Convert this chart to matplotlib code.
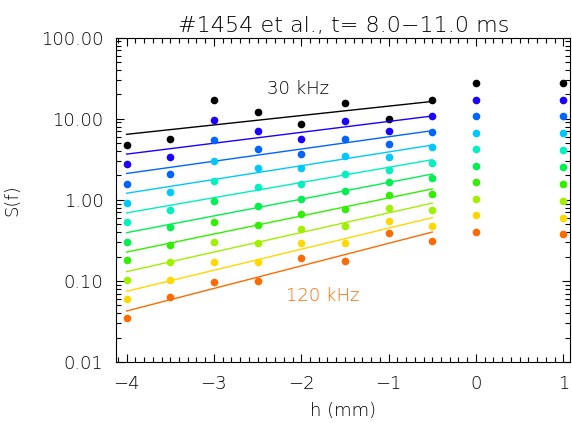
import numpy as np
import matplotlib
matplotlib.use("Agg")
import matplotlib.pyplot as plt
from matplotlib.ticker import MultipleLocator, LogLocator, FormatStrFormatter, NullFormatter

# probe positions h (mm)
h_vals = [-4.0, -3.5, -3.0, -2.5, -2.0, -1.5, -1.0, -0.5, 0.0, 1.0]

# S(f) per frequency
s_30 = [4.73, 5.57, 17.0, 12.2, 8.53, 15.5, 10.0, 16.9, 27.4, 27.8]
s_40 = [2.74, 3.34, 9.56, 7.11, 5.61, 9.37, 6.98, 10.8, 17.0, 17.2]
s_50 = [1.59, 2.06, 5.41, 4.19, 3.66, 5.66, 4.87, 6.91, 10.7, 10.7]
s_60 = [0.918, 1.245, 3.03, 2.44, 2.44, 3.46, 3.37, 4.44, 6.66, 6.66]
s_70 = [0.531, 0.753, 1.72, 1.435, 1.58, 2.09, 2.35, 2.84, 4.19, 4.14]
s_80 = [0.306, 0.46, 0.964, 0.836, 1.03, 1.28, 1.64, 1.84, 2.61, 2.55]
s_90 = [0.179, 0.281, 0.541, 0.491, 0.672, 0.774, 1.14, 1.17, 1.64, 1.58]
s_100 = [0.103, 0.172, 0.306, 0.29, 0.443, 0.478, 0.797, 0.753, 1.03, 0.972]
s_110 = [0.060, 0.104, 0.172, 0.169, 0.292, 0.29, 0.556, 0.483, 0.647, 0.606]
s_120 = [0.0345, 0.0634, 0.0972, 0.099, 0.192, 0.175, 0.388, 0.312, 0.403, 0.377]

series = [s_30, s_40, s_50, s_60, s_70, s_80, s_90, s_100, s_110, s_120]
colors = ["#000000", "#1a00ff", "#0064ff", "#00c8ff", "#00f0c0",
          "#00f050", "#30f000", "#a0f000", "#ffd800", "#ff6a00"]

# the fit uses only the points from -4 to -0.5
n_fit = 8

# thin text, closer to the IDL look
plt.rcParams["font.weight"] = "light"
plt.rcParams["axes.titleweight"] = "light"
plt.rcParams["axes.labelweight"] = "light"

fig = plt.figure(figsize=(5.72, 4.23), dpi=100)
ax = fig.add_axes([0.203, 0.144, 0.794, 0.767])

for vals, c in zip(series, colors):
    ax.plot(h_vals, vals, "o", color=c, markersize=5.5, markeredgewidth=0)
    # straight line fit in log space
    p = np.polyfit(h_vals[:n_fit], np.log10(vals[:n_fit]), 1)
    xf = np.array([h_vals[0], h_vals[n_fit - 1]])
    ax.plot(xf, 10 ** np.polyval(p, xf), "-", color=c, linewidth=1.0)

ax.set_yscale("log")
ax.set_xlim(-4.12, 1.08)
ax.set_ylim(0.01, 100)

ax.xaxis.set_major_locator(MultipleLocator(1))
ax.xaxis.set_minor_locator(MultipleLocator(0.1))
ax.yaxis.set_major_locator(LogLocator(base=10))
ax.yaxis.set_minor_locator(LogLocator(base=10, subs=np.arange(2, 10)))
ax.yaxis.set_major_formatter(FormatStrFormatter("%.2f"))
ax.yaxis.set_minor_formatter(NullFormatter())

ax.tick_params(which="both", direction="in", top=True, right=True, labelsize=13, width=0.8)
ax.tick_params(which="major", length=6, pad=9)
ax.tick_params(which="minor", length=3.5)
for s in ax.spines.values():
    s.set_linewidth(0.8)

ax.text(-2.04, 10 ** 1.37, "30 kHz", color="black", fontsize=13, ha="center", va="center")
ax.text(-1.75, 10 ** -1.19, "120 kHz", color="#ff6a00", fontsize=13, ha="center", va="center")

ax.set_title("#1454 et al., t= 8.0\u221211.0 ms", fontsize=16, pad=4)
ax.set_xlabel("h (mm)", fontsize=13, labelpad=7)
ax.set_ylabel("S(f)", fontsize=13, labelpad=14)

fig.savefig("out.png", dpi=100)
